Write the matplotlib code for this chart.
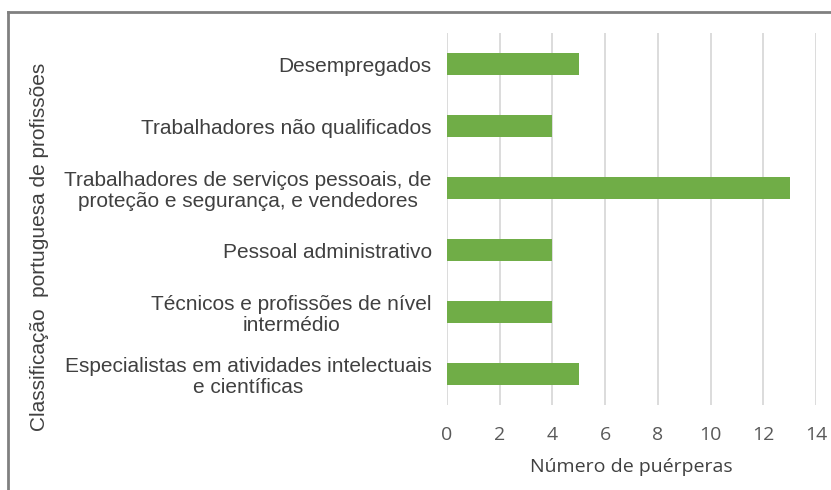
import matplotlib
matplotlib.use("Agg")
import matplotlib.pyplot as plt
from matplotlib.lines import Line2D

categories = [
    "Especialistas em atividades intelectuais\ne científicas",
    "Técnicos e profissões de nível\nintermédio",
    "Pessoal administrativo",
    "Trabalhadores de serviços pessoais, de\nproteção e segurança, e vendedores",
    "Trabalhadores não qualificados",
    "Desempregados",
]
values = [5, 4, 4, 13, 4, 5]
xticks = [0, 2, 4, 6, 8, 10, 12, 14]

fig = plt.figure(figsize=(8.31, 4.90), dpi=100)
ax = fig.add_axes([447/831, 1-405/490, (816-447)/831, (405-33)/490])

ypos = list(range(len(categories)))
ax.barh(ypos, values, height=0.35, color="#70AD47", zorder=3)
ax.set_ylim(-0.5, len(categories)-0.5)
ax.set_xlim(0, 14)
ax.set_xticks(xticks)
ax.set_xticklabels([str(t) for t in xticks], fontsize=14, color="#595959", family="Open Sans")
ax.set_yticks(ypos)
ax.set_yticklabels(categories, fontsize=15, color="#404040", family="Liberation Sans")
for lbl in ax.get_yticklabels():
    lbl.set_multialignment("center")
    lbl.set_linespacing(1.15)
ax.tick_params(axis="both", length=0)
ax.tick_params(axis="y", pad=11)
ax.tick_params(axis="x", pad=15)
ax.grid(axis="x", color="#D9D9D9", linewidth=1.3, zorder=0)
for s in ax.spines.values():
    s.set_visible(False)

ax.set_xlabel("Número de puérperas", fontsize=14, color="#404040", family="Open Sans", labelpad=10)
fig.text(40/831, 1-247/490, "Classificação  portuguesa de profissões", rotation=90,
         ha="center", va="center", fontsize=15, color="#404040", family="Liberation Sans")

fig.add_artist(Line2D([8/831, 1], [1-12/490, 1-12/490], color="#808080", linewidth=2, transform=fig.transFigure))
fig.add_artist(Line2D([8/831, 8/831], [0, 1-12/490], color="#808080", linewidth=2, transform=fig.transFigure))

fig.savefig("out.png", dpi=100)
